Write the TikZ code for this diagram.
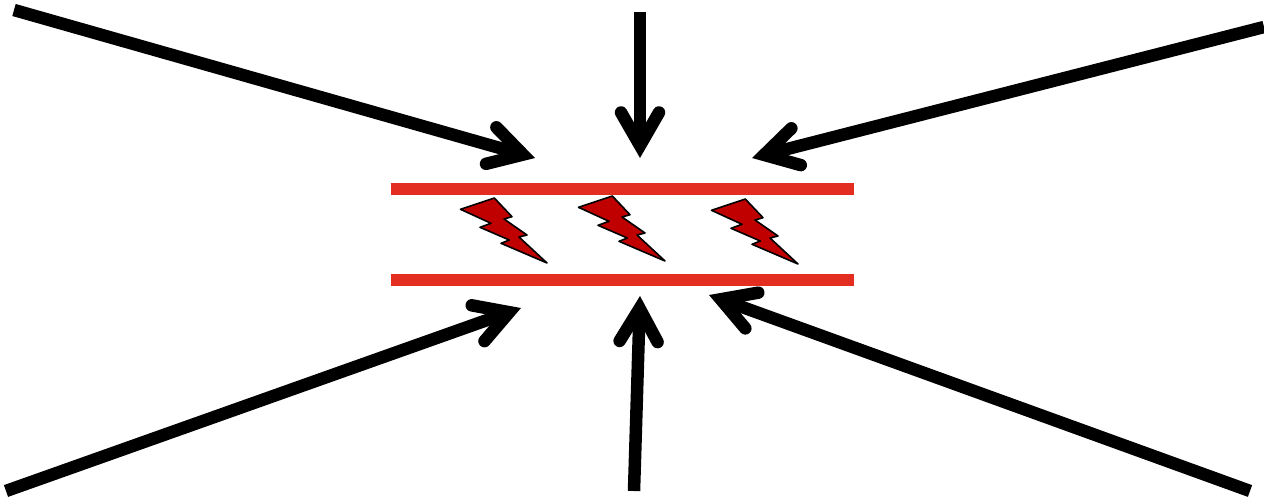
\documentclass[tikz,border=0pt]{standalone}
\usepackage{xcolor}
\usetikzlibrary{arrows.meta}
\definecolor{pred}{RGB}{227,45,32}
\definecolor{bred}{RGB}{192,0,0}
\tikzset{
  plate/.style ={draw=pred, line width=12pt},
  ar/.style    ={-{Straight Barb[length=33pt, width=38pt, line cap=round, line join=miter]}, draw=black, line width=12.5pt},
  bolt/.style  ={draw=black, fill=bred, line width=1.6pt, line join=round}
}
\begin{document}
\begin{tikzpicture}[x=1pt, y=-1pt]
\useasboundingbox (0,0) rectangle (1264,496);
% plates
\coordinate (pa) at (390.5,189);
\coordinate (pb) at (853.5,189);
\coordinate (pc) at (390.5,280);
\coordinate (pd) at (853.5,280);
\draw[plate] (pa) -- (pb);
\draw[plate] (pc) -- (pd);
% bolts
\foreach \dx/\dy in {0/0, 118/-2, 251/1}{
  \draw[bolt, shift={(\dx,\dy)}] (460.5,209.3) -- (494.3,198) -- (512,216.7) -- (504,219)
    -- (527,235) -- (519,237) -- (547,263) -- (501,243.3) -- (509.3,240)
    -- (480,227.3) -- (491,223.3) -- cycle;
}
% arrows
\coordinate (s1) at (14,10);
\coordinate (t1) at (535,158);
\coordinate (s2) at (640,12);
\coordinate (t2) at (640,158);
\coordinate (s3) at (1264,27);
\coordinate (t3) at (752,158);
\coordinate (s4) at (6,491);
\coordinate (t4) at (521,308);
\coordinate (s5) at (634,491);
\coordinate (t5) at (640,296);
\coordinate (s6) at (1250,491);
\coordinate (t6) at (709,295);
\foreach \i in {1,...,6}{
  \draw[ar] (s\i) -- (t\i);
}
\end{tikzpicture}
\end{document}
